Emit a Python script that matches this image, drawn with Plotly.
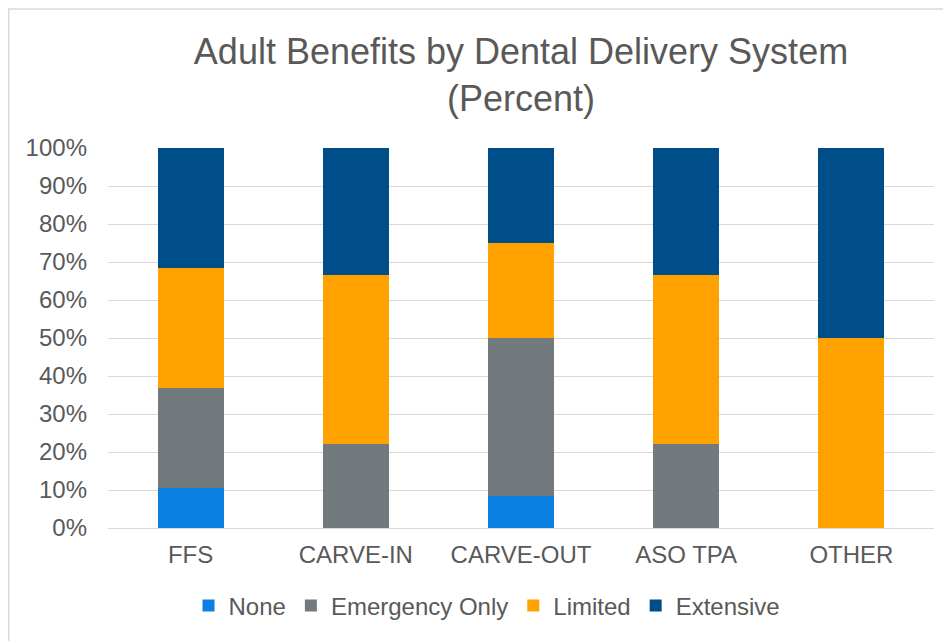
import plotly.graph_objects as go

categories = ["FFS", "CARVE-IN", "CARVE-OUT", "ASO TPA", "OTHER"]
series_names = ["None", "Emergency Only", "Limited", "Extensive"]
none_vals = [10.5, 0, 8.3, 0, 0]
emergency_vals = [26.3, 22.2, 41.7, 22.2, 0]
limited_vals = [31.6, 44.5, 25.0, 44.5, 50.0]
extensive_vals = [31.6, 33.3, 25.0, 33.3, 50.0]
tick_vals = [0, 10, 20, 30, 40, 50, 60, 70, 80, 90, 100]
tick_text = ["0%", "10%", "20%", "30%", "40%", "50%", "60%", "70%", "80%", "90%", "100%"]

colors = ["#0A80E3", "#737A7D", "#FFA200", "#004E89"]
values = [none_vals, emergency_vals, limited_vals, extensive_vals]

fig = go.Figure()
for name, vals, col in zip(series_names, values, colors):
    fig.add_trace(go.Bar(x=categories, y=vals, name=name, marker_color=col,
                         marker_line_width=0))

# page has an 8px body margin; compensate so positions match the page
OFF = 8
W, H = 951 - OFF, 641 - OFF
ml, mr, mt, mb = 108 - OFF, 17, 148 - OFF, 113
pw = W - ml - mr
ph = H - mt - mb

def px_x(px):
    return (px - OFF - ml) / pw

def px_y(py):
    return (H - mb - (py - OFF)) / ph

font_family = "Liberation Sans, Arial, sans-serif"
grey_text = "#595959"

fig.update_layout(
    width=W, height=H,
    margin=dict(l=ml, r=mr, t=mt, b=mb, pad=0),
    barmode="stack",
    bargap=0.6,
    paper_bgcolor="white",
    plot_bgcolor="white",
    font=dict(family=font_family, color=grey_text, size=24),
    title=dict(text="Adult Benefits by Dental Delivery System<br>(Percent)",
               x=0.5, xref="paper", xanchor="center",
               y=1 - 56 / H, yref="container", yanchor="middle",
               font=dict(size=36, color=grey_text, family=font_family)),
    legend=dict(orientation="h", x=px_x(487), xanchor="center", xref="paper",
                y=px_y(606), yanchor="middle",
                font=dict(size=24, color=grey_text), traceorder="normal",
                itemwidth=30),
    showlegend=True,
)
fig.update_yaxes(range=[0, 100], tickmode="array", tickvals=tick_vals, ticktext=tick_text,
                 showgrid=True, gridcolor="#D9D9D9", gridwidth=1.3,
                 zeroline=False, showline=False, ticks="",
                 ticklabelstandoff=20,
                 tickfont=dict(size=24, color=grey_text))
fig.update_xaxes(showgrid=False, showline=True, linecolor="#D9D9D9", linewidth=1.3,
                 ticks="", ticklabelstandoff=5,
                 tickfont=dict(size=24, color=grey_text))

# outer chart border (left & top visible)
fig.add_shape(type="rect", xref="paper", yref="paper",
              x0=px_x(8.7), x1=px_x(1000), y0=px_y(700), y1=px_y(9),
              line=dict(color="#D9D9D9", width=1.5), fillcolor="rgba(0,0,0,0)",
              layer="below")

fig.write_html("out.html")
